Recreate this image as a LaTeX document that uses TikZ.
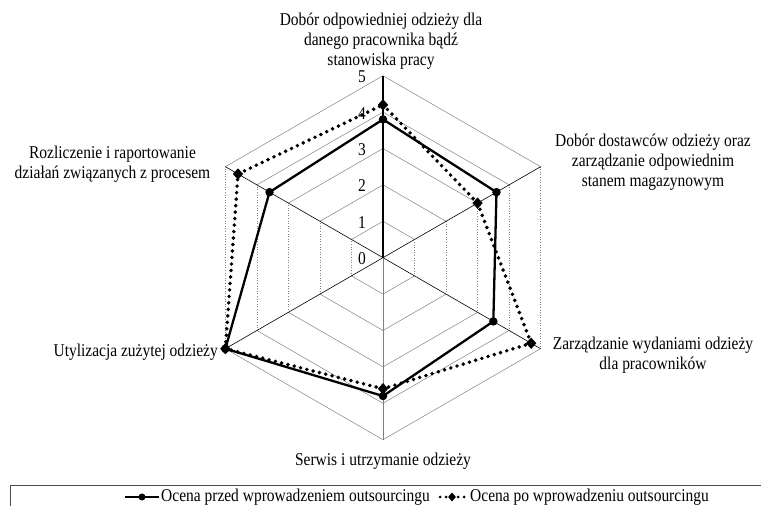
\documentclass[tikz,border=0pt]{standalone}
\usepackage{fontspec}
\setmainfont[FakeStretch=0.86]{Liberation Serif}
\usetikzlibrary{shapes.geometric}
\begin{document}
\begin{tikzpicture}[x=1pt,y=1pt,
 lbl/.style={font=\fontsize{18}{20}\selectfont, align=center, inner sep=0pt},
 ring/.style={gray, line width=0.5pt},
 vring/.style={gray, line width=0.6pt, dotted},
 spoke/.style={black, line width=0.6pt},
 before/.style={black, line width=2.3pt, line join=round},
 after/.style={black, line width=3.9pt, line cap=round, dash pattern=on 0pt off 6.5pt},
 dotmark/.style={circle, fill=black, inner sep=0pt, minimum size=8.5pt},
 diamark/.style={diamond, fill=black, inner sep=0pt, minimum width=10.5pt, minimum height=11.5pt}
]
\useasboundingbox (0,0) rectangle (761,506);
\coordinate (C) at (383,248.3);
\def\u{36.4}
% vertices of the grid
\foreach \r in {1,...,5}{
  \foreach \i in {1,...,6}{
    \path (C) ++({150-60*\i}:{\r*\u}) coordinate (v\r\i);
  }
}
\foreach \r in {1,...,5}{
  \draw[ring] (v\r6) -- (v\r1) -- (v\r2) (v\r3) -- (v\r4) -- (v\r5);
  \draw[vring] (v\r2) -- (v\r3) (v\r5) -- (v\r6);
}
% spokes
\draw[spoke] (C) -- (v52) (C) -- (v53) (C) -- (v55) (C) -- (v56);
\draw[gray, line width=0.6pt] (C) -- (v54);
\draw[black, line width=1.2pt] (C) -- (v51);
% tick labels
\foreach \t in {0,...,5}{
  \path (C) ++(-17,{\t*\u-1}) node[lbl, anchor=east] (t\t) {\t};
}
% series after (dotted, diamonds)
\foreach \i/\v in {1/4.2,2/3.0,3/4.7,4/3.6,5/5,6/4.6}{
  \path (C) ++({150-60*\i}:{\v*\u}) node[diamark] (q\i) {};
}
\draw[after] (q1.center) -- (q2.center) -- (q3.center) -- (q4.center) -- (q5.center) -- (q6.center) -- cycle;
% series before (solid, circles)
\foreach \i/\v in {1/3.8,2/3.6,3/3.5,4/3.8,5/5,6/3.6}{
  \path (C) ++({150-60*\i}:{\v*\u}) node[dotmark] (p\i) {};
}
\draw[before] (p1.center) -- (p2.center) -- (p3.center) -- (p4.center) -- (p5.center) -- (p6.center) -- cycle;
% category labels
\node[lbl] (l1) at (381,465) {Dobór odpowiedniej odzieży dla\\danego pracownika bądź\\stanowiska pracy};
\node[lbl] (l2) at (653,343.5) {Dobór dostawców odzieży oraz\\zarządzanie odpowiednim\\stanem magazynowym};
\node[lbl] (l3) at (653,151) {Zarządzanie wydaniami odzieży\\dla pracowników};
\node[lbl] (l4) at (383,44.5) {Serwis i utrzymanie odzieży};
\node[lbl, anchor=east] (l5) at (218,154) {Utylizacja zużytej odzieży};
\node[lbl] (l6) at (112.5,341.5) {Rozliczenie i raportowanie\\działań związanych z procesem};
% legend
\coordinate (b1) at (10,0);
\coordinate (b2) at (10,21);
\coordinate (b3) at (761,21);
\draw[gray!60!black, line width=0.8pt] (b1) -- (b2) -- (b3);
\coordinate (la) at (125,9);
\coordinate (lb) at (159,9);
\draw[before] (la) -- (lb);
\node[dotmark, minimum size=7pt] (lm1) at (142,9) {};
\node[lbl, anchor=mid west] (lt1) at (161,7) {Ocena przed wprowadzeniem outsourcingu};
\coordinate (lc) at (440,9);
\coordinate (ld) at (465,9);
\draw[after, line width=3pt, dash pattern=on 0pt off 6pt] (lc) -- (ld);
\node[diamark, minimum width=8pt, minimum height=9pt] (lm2) at (452,9) {};
\node[lbl, anchor=mid west] (lt2) at (470,7) {Ocena po wprowadzeniu outsourcingu};
\end{tikzpicture}
\end{document}
